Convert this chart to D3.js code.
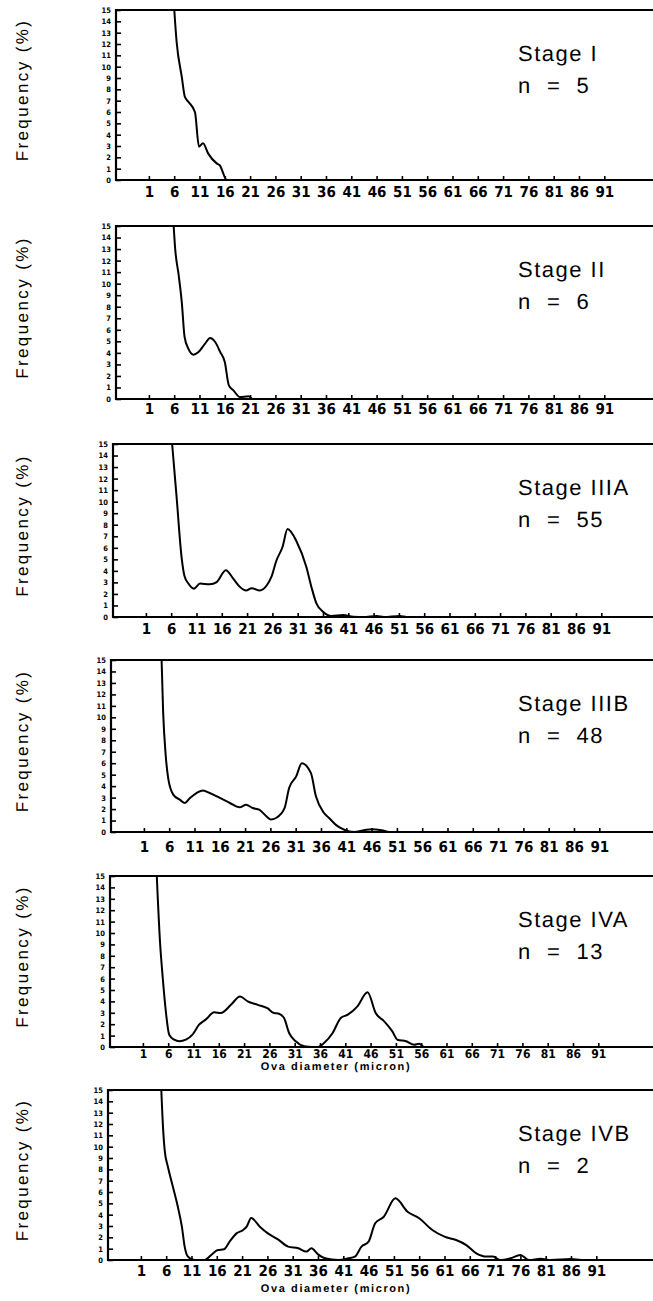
<!DOCTYPE html>
<html>
<head>
<meta charset="utf-8">
<script src="https://cdn.jsdelivr.net/npm/d3@7"></script>
<style>
  body { margin: 0; background: #fff; }
  svg { display: block; }
  text { fill: #000; text-rendering: geometricPrecision; }
</style>
</head>
<body>
<svg id="chart"></svg>
<script>
// Data: [ova diameter (micron), frequency (%)]
const stageI = [[5.8,16.5],[6.5,12.1],[7.5,9.1],[8.1,7.35],[8.8,6.9],[10.1,6.0],[10.9,2.94],[11.7,3.24],[12.7,2.35],[14.4,1.47],[15,1.3],[16.4,0],[30,0],[60,0],[92,0]];
const stageII = [[5.7,16.5],[6.2,13.0],[6.9,10.7],[7.5,8.4],[8.05,5.4],[8.8,4.36],[9.8,3.84],[10.8,4.07],[12.1,4.8],[13.1,5.29],[14.1,4.94],[15.1,4.07],[16,3.2],[16.8,1.18],[17.7,0.75],[19,0.17],[20.7,0.23],[21.5,0],[50,0],[92,0]];
const stageIIIA = [[5.9,16.5],[7.07,10.4],[8.05,5.2],[8.6,3.6],[9.4,2.9],[10.5,2.46],[11.7,2.9],[13.6,2.83],[15,3.03],[16.8,4.05],[18.3,3.3],[19.6,2.6],[20.8,2.3],[21.9,2.5],[23.5,2.3],[24.9,2.75],[25.8,3.47],[26.8,4.9],[28,6.07],[29,7.63],[30.8,6.53],[32.7,4.36],[33.7,2.63],[34.7,1.18],[36,0.46],[37.7,0.09],[40,0.17],[42,0.03],[44,0],[46.6,0.09],[48,0],[51.2,0.09],[52.5,0],[92,0]];
const stageIIIB = [[4.4,16.5],[4.8,10.5],[5.3,6.74],[5.8,4.7],[6.8,3.26],[8.1,2.82],[9.1,2.53],[10.1,2.97],[11.4,3.4],[12.7,3.63],[14,3.4],[16,2.97],[18,2.53],[19.9,2.15],[21.2,2.38],[22.5,2.09],[23.8,1.95],[25.2,1.37],[26.1,1.08],[27.1,1.22],[28.8,2.09],[29.7,3.84],[31.1,4.85],[32.2,6.0],[34,5.15],[35,3.11],[36.6,1.66],[37.6,1.22],[39,0.6],[40.6,0.2],[42.5,0],[44.5,0.15],[46,0.25],[48,0.15],[49.5,0],[92,0]];
const stageIVA = [[3.6,16.5],[4.4,9.1],[4.9,6.2],[5.5,3.27],[6.2,1.08],[7.2,0.64],[8.2,0.5],[9.5,0.64],[10.8,1.08],[12.1,1.96],[13.4,2.4],[15.1,3.04],[16.4,2.98],[18.4,3.7],[20.2,4.44],[21.7,4.0],[23.7,3.7],[25.6,3.4],[26.9,2.98],[27.9,2.92],[28.9,2.54],[29.9,1.23],[31.2,0.5],[32.9,0.06],[34.5,0],[35.5,0],[36.8,0.35],[38.5,1.23],[40.1,2.54],[41.5,2.84],[43.4,3.57],[45.4,4.8],[47,2.98],[48.7,2.25],[50.3,1.37],[51.3,0.64],[53,0.5],[54.6,0.2],[55.6,0.29],[56.6,0],[92,0]];
const stageIVB = [[4.9,16.5],[5.4,11.5],[5.7,9.7],[6.35,8.2],[7.3,6.5],[8.3,4.7],[9.1,2.94],[9.65,1.18],[10.3,0.3],[11.6,0],[13.6,0],[14.9,0.44],[16.2,0.88],[17.4,0.94],[18.5,1.6],[19.9,2.35],[21.2,2.65],[21.9,2.94],[22.8,3.7],[24.5,2.94],[26.1,2.35],[28.1,1.82],[30.1,1.18],[32.1,1.03],[33.7,0.74],[34.7,1.03],[36,0.5],[37.4,0.15],[40,0],[42,0.15],[43.3,0.3],[44.6,1.18],[46,1.62],[47.3,3.24],[49,3.82],[51.3,5.44],[53.7,4.26],[56,3.68],[58.6,2.65],[61,2.06],[63.3,1.76],[65.3,1.32],[67.3,0.59],[69.3,0.3],[70.6,0.3],[72,0],[74,0.15],[76,0.44],[77.7,0],[80,0.1],[82,0],[86,0.08],[88,0],[92,0]];

const stageNames = ["Stage I", "Stage II", "Stage IIIA", "Stage IIIB", "Stage IVA", "Stage IVB"];
const stageN = [5, 6, 55, 48, 13, 2];
const stageSeries = [stageI, stageII, stageIIIA, stageIIIB, stageIVA, stageIVB];
const xTickValues = [1, 6, 11, 16, 21, 26, 31, 36, 41, 46, 51, 56, 61, 66, 71, 76, 81, 86, 91];
const yTickValues = [0, 1, 2, 3, 4, 5, 6, 7, 8, 9, 10, 11, 12, 13, 14, 15];
const showXLabel = [false, false, false, false, true, true];

// Layout (panel frames as they sit on the scanned page)
const W = 653, H = 1301;
const panelLayout = [
  { left: 116, top: 10, bottom: 180, tickY: 17, tickSize: 15, labelY: 0 },
  { left: 116, top: 226, bottom: 399, tickY: 15, tickSize: 15, labelY: 0 },
  { left: 113, top: 444, bottom: 617, tickY: 17, tickSize: 15, labelY: 0 },
  { left: 111, top: 660, bottom: 832, tickY: 20, tickSize: 15, labelY: 0 },
  { left: 110, top: 876, bottom: 1047, tickY: 11, tickSize: 12, labelY: 23 },
  { left: 108, top: 1090, bottom: 1260, tickY: 16, tickSize: 15, labelY: 32 },
];
const pxPerMicron = 5.06;

const svg = d3.select("#chart").attr("width", W).attr("height", H);
const defs = svg.append("defs");
const tickFont = "'Liberation Sans Narrow', 'DejaVu Sans Condensed', 'Liberation Sans', sans-serif";
const textFont = "'Liberation Sans', Arial, Helvetica, sans-serif";

stageSeries.forEach((series, i) => {
  const p = panelLayout[i];
  const x = d3.scaleLinear().domain([-5.5, 100]).range([p.left, p.left + 105.5 * pxPerMicron]);
  const y = d3.scaleLinear().domain([0, 15]).range([p.bottom, p.top]);
  const g = svg.append("g");

  // clip to plot area
  defs.append("clipPath").attr("id", "clip" + i)
    .append("rect")
    .attr("x", p.left).attr("y", p.top)
    .attr("width", W - p.left).attr("height", p.bottom - p.top);

  // frame: left axis, top line, bottom line
  g.append("path")
    .attr("d", `M${W},${p.top}H${p.left}V${p.bottom}H${W}`)
    .attr("fill", "none").attr("stroke", "#000").attr("stroke-width", 2.2);

  // y axis (inward ticks)
  const yAxis = g.append("g")
    .attr("transform", `translate(${p.left},0)`)
    .call(d3.axisRight(y).tickValues(yTickValues).tickSize(5).tickFormat(d3.format("d")));
  yAxis.select(".domain").remove();
  yAxis.selectAll("line").attr("stroke", "#000").attr("stroke-width", 1.6);
  yAxis.selectAll("text")
    .attr("text-anchor", "end")
    .attr("x", -5)
    .attr("fill", "#000")
    .style("font-family", tickFont)
    .style("font-size", "7.5px")
    .style("font-weight", "bold");

  // x axis (inward ticks)
  const xAxis = g.append("g")
    .attr("transform", `translate(0,${p.bottom})`)
    .call(d3.axisTop(x).tickValues(xTickValues).tickSize(4).tickFormat(d3.format("d")));
  xAxis.select(".domain").remove();
  xAxis.selectAll("line").attr("stroke", "#000").attr("stroke-width", 1.6);
  xAxis.selectAll("text")
    .attr("y", p.tickY)
    .attr("dy", 0)
    .attr("fill", "#000")
    .style("font-family", tickFont)
    .style("font-size", p.tickSize + "px")
    .style("font-weight", "bold");

  // frequency curve
  const line = d3.line()
    .x((d) => x(d[0]))
    .y((d) => y(d[1]))
    .curve(d3.curveMonotoneX);
  g.append("path")
    .datum(series)
    .attr("clip-path", `url(#clip${i})`)
    .attr("d", line)
    .attr("fill", "none")
    .attr("stroke", "#000")
    .attr("stroke-width", 2)
    .attr("stroke-linejoin", "round");

  // y axis title
  g.append("text")
    .attr("transform", `translate(28,${(p.top + p.bottom) / 2 - 5}) rotate(-90)`)
    .attr("text-anchor", "middle")
    .attr("fill", "#000")
    .style("font-family", textFont)
    .style("font-size", "17px")
    .style("letter-spacing", "2.4px")
    .text("Frequency (%)");

  // stage label
  g.append("text")
    .attr("x", 518).attr("y", p.top + 51)
    .style("font-family", textFont)
    .style("font-size", "22px")
    .style("letter-spacing", "1.5px")
    .text(stageNames[i]);
  g.append("text")
    .attr("x", 518).attr("y", p.top + 83)
    .style("font-family", textFont)
    .style("font-size", "22px")
    .style("letter-spacing", "1.5px")
    .style("white-space", "pre")
    .text("n  =  " + stageN[i]);

  if (showXLabel[i]) {
    g.append("text")
      .attr("x", 336).attr("y", p.bottom + p.labelY)
      .attr("text-anchor", "middle")
      .style("font-family", textFont)
      .style("font-size", "11px")
      .style("font-weight", "bold")
      .style("letter-spacing", "1.6px")
      .text("Ova diameter (micron)");
  }
});
</script>
</body>
</html>
